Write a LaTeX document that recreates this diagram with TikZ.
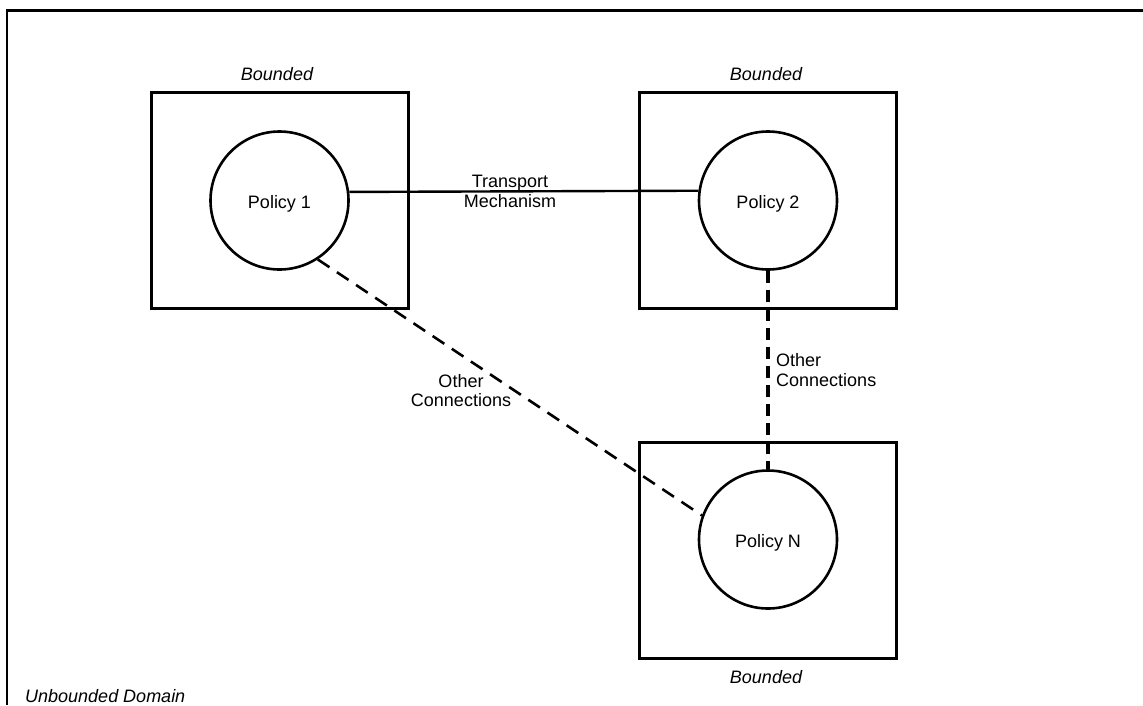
\documentclass[tikz,border=0pt]{standalone}
\usepackage{fontspec}
\setmainfont{Liberation Sans}
\begin{document}
\begin{tikzpicture}[x=1pt,y=-1pt,
  every node/.style={font=\fontsize{18}{20}\selectfont},
  domainbox/.style={draw,line width=3pt,rectangle,minimum width=257pt,minimum height=216pt,inner sep=0pt},
  policy/.style={draw,line width=2.6pt,circle,minimum size=138pt,inner sep=0pt,text height=16pt,text depth=0pt},
  lab/.style={anchor=base,inner sep=0pt},
  blab/.style={anchor=base,inner sep=0pt,font=\fontsize{18}{20}\selectfont\itshape},
  transport/.style={line width=2.4pt},
  otherslant/.style={line width=2.6pt,dash pattern=on 14pt off 9pt},
  othervert/.style={line width=3.2pt,dash pattern=on 12pt off 7pt}]
\useasboundingbox (0,0) rectangle (1143,705);
% outer frame (top and left edges visible)
\coordinate (fbl) at (7,705);
\coordinate (ftl) at (7,10.5);
\coordinate (ftr) at (1143,10.5);
\draw[line width=2.8pt] (fbl) -- (ftl) -- (ftr);
% boxes
\node[domainbox] (b1) at (279.5,200) {};
\node[domainbox] (b2) at (767.5,200) {};
\node[domainbox] (b3) at (768,550) {};
% policies
\node[policy] (p1) at (279.5,200.5) {Policy 1};
\node[policy] (p2) at (768,200.5) {Policy 2};
\node[policy] (pN) at (768,539.5) {Policy N};
% bounded labels
\node[blab] (l1) at (277,80) {Bounded};
\node[blab] (l2) at (766,80) {Bounded};
\node[blab] (l3) at (766,683) {Bounded};
\node[blab,anchor=base west] (ud) at (25,702) {Unbounded Domain};
% connectors
\draw[transport] (p1.7.5) -- (p2.172.5);
\node[lab] (t1) at (510,187) {Transport};
\node[lab] (t2) at (510,207) {Mechanism};
\draw[otherslant] (p1.-57) -- (pN.160);
\draw[othervert] (p2.south) -- (pN.north);
\node[lab] (o1) at (461,387) {Other};
\node[lab] (o2) at (461,406) {Connections};
\node[lab,anchor=base west] (o3) at (776,366) {Other};
\node[lab,anchor=base west] (o4) at (776,386) {Connections};
\end{tikzpicture}
\end{document}
